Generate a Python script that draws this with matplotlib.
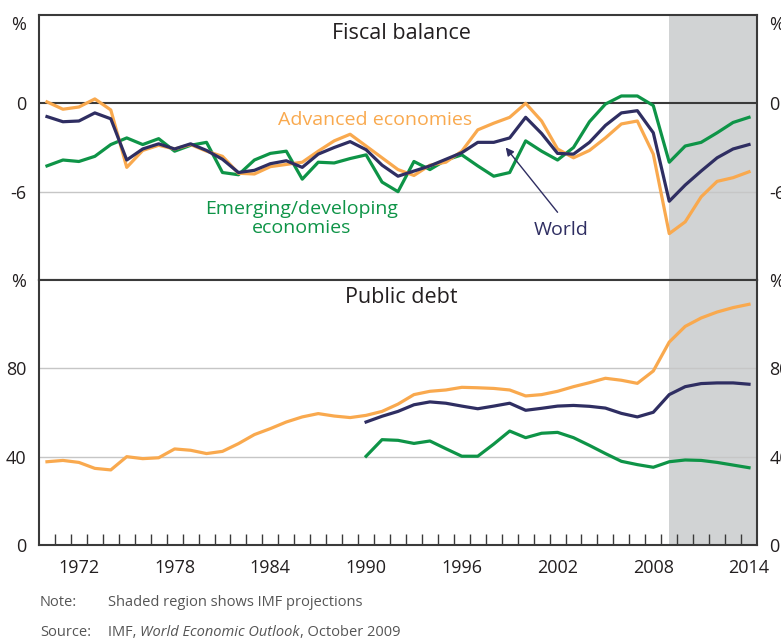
import matplotlib
matplotlib.use("Agg")
import matplotlib.pyplot as plt
import matplotlib.transforms as mtransforms
import numpy as np

plt.rcParams['font.family'] = ['Open Sans', 'DejaVu Sans']

# ---------------- data ----------------
years = list(range(1970, 2015))
debt_years_short = list(range(1990, 2015))

fiscal_advanced = [0.1, -0.4, -0.25, 0.3, -0.45, -4.35, -3.2, -2.85, -3.1, -2.8,
                   -3.25, -3.6, -4.75, -4.8, -4.3, -4.15, -4.0, -3.25, -2.55, -2.1,
                   -2.9, -3.7, -4.5, -4.9, -4.2, -4.0, -3.25, -1.8, -1.35, -0.95,
                   0.0, -1.2, -3.1, -3.7, -3.2, -2.35, -1.4, -1.2, -3.45, -8.85,
                   -8.05, -6.35, -5.3, -5.05, -4.65]
fiscal_world = [-0.9, -1.25, -1.2, -0.65, -1.05, -3.85, -3.1, -2.75, -3.1, -2.75,
                -3.2, -3.8, -4.7, -4.55, -4.1, -3.9, -4.35, -3.45, -3.0, -2.6,
                -3.15, -4.2, -4.95, -4.6, -4.25, -3.8, -3.35, -2.65, -2.65, -2.35,
                -0.95, -2.05, -3.4, -3.45, -2.65, -1.5, -0.65, -0.5, -2.0, -6.65,
                -5.55, -4.6, -3.7, -3.1, -2.8]
fiscal_emerging = [-4.25, -3.85, -3.95, -3.6, -2.8, -2.35, -2.8, -2.4, -3.25, -2.85,
                   -2.65, -4.7, -4.85, -3.85, -3.4, -3.25, -5.15, -4.0, -4.05, -3.75,
                   -3.5, -5.35, -6.0, -3.95, -4.5, -3.85, -3.5, -4.25, -4.95, -4.7,
                   -2.55, -3.25, -3.85, -3.0, -1.25, -0.05, 0.5, 0.5, -0.15, -4.0,
                   -2.9, -2.65, -2.0, -1.3, -0.95]

debt_advanced = [37.7, 38.3, 37.4, 34.7, 34.0, 40.0, 39.1, 39.5, 43.5, 42.9,
                 41.4, 42.4, 45.9, 50.0, 52.7, 55.7, 58.0, 59.5, 58.4, 57.7,
                 58.7, 60.5, 63.8, 68.1, 69.6, 70.2, 71.4, 71.2, 70.9, 70.2,
                 67.5, 68.1, 69.6, 71.7, 73.5, 75.5, 74.6, 73.2, 78.8, 91.9,
                 99.0, 102.8, 105.5, 107.5, 109.0]
debt_world = [55.7, 58.3, 60.5, 63.5, 64.8, 64.2, 62.9, 61.7, 62.9, 64.2,
              61.0, 61.9, 62.9, 63.2, 62.8, 62.0, 59.6, 58.0, 60.1, 68.1,
              71.7, 73.1, 73.4, 73.4, 72.8]
debt_emerging = [40.2, 47.7, 47.4, 46.0, 47.1, 43.6, 40.2, 40.2, 45.7, 51.6,
                 48.6, 50.6, 51.0, 48.6, 45.1, 41.4, 37.9, 36.4, 35.2, 37.7,
                 38.5, 38.3, 37.4, 36.2, 35.0]

xtick_years = [1972, 1978, 1984, 1990, 1996, 2002, 2008, 2014]
projection_start = 2009

# ---------------- style ----------------
ORANGE = '#F9A94E'
NAVY = '#2F2E62'
GREEN = '#0E9447'
SHADE = '#D1D3D4'
GRID = '#C6C6C6'
DARK = '#3A3A3A'
TEXT = '#231F20'
NOTE = '#555555'
LW = 2.3

W, H = 781, 638
fig = plt.figure(figsize=(W / 100, H / 100), dpi=100)


def axrect(x0, y0, x1, y1):
    return [x0 / W, 1 - y1 / H, (x1 - x0) / W, (y1 - y0) / H]


ax1 = fig.add_axes(axrect(39, 15, 757, 280))
ax2 = fig.add_axes(axrect(39, 280, 757, 545))

for ax in (ax1, ax2):
    ax.set_xlim(1969.5, 2014.5)
    ax.axvspan(projection_start, 2014.5, color=SHADE, lw=0, zorder=0)
    for s in ax.spines.values():
        s.set_color(DARK)
        s.set_linewidth(1.5)
    ax.tick_params(axis='y', length=0, labelleft=True, labelright=True,
                   labelsize=13, labelcolor=TEXT, pad=9)

# --- top panel: fiscal balance ---
ax1.set_ylim(-12, 6)
ax1.axhline(0, color=DARK, lw=1.5, zorder=1)
ax1.axhline(-6, color=GRID, lw=1.0, zorder=1)
ax1.set_yticks([-6, 0, 6])
ax1.set_yticklabels(['-6', '0', '%'])
ax1.set_xticks([])
ax1.plot(years, fiscal_emerging, color=GREEN, lw=LW, zorder=3)
ax1.plot(years, fiscal_advanced, color=ORANGE, lw=LW, zorder=4)
ax1.plot(years, fiscal_world, color=NAVY, lw=LW, zorder=5)

# push the top "%" labels slightly down, as in the reference
shift = mtransforms.ScaledTranslation(0, -6 / 72, fig.dpi_scale_trans)
for lbl in ax1.yaxis.get_ticklabels(which='major'):
    pass
for tick in ax1.yaxis.get_major_ticks():
    if tick.label1.get_text() == '%' or tick.get_loc() == 6:
        tick.label1.set_transform(tick.label1.get_transform() + shift)
        tick.label2.set_transform(tick.label2.get_transform() + shift)

ax1.text(1992.2, 4.75, 'Fiscal balance', ha='center', va='center',
         fontsize=15.5, color=TEXT)
ax1.text(1990.56, -1.15, 'Advanced economies', ha='center', va='center',
         fontsize=14, color=ORANGE)
ax1.text(1985.95, -7.2, 'Emerging/developing', ha='center', va='center',
         fontsize=14, color=GREEN)
ax1.text(1985.95, -8.45, 'economies', ha='center', va='center',
         fontsize=14, color=GREEN)
ax1.text(2002.2, -8.6, 'World', ha='center', va='center',
         fontsize=14, color=NAVY)
ax1.annotate('', xy=(1998.75, -3.0), xytext=(2002.0, -7.4),
             arrowprops=dict(arrowstyle='-|>', color=NAVY, lw=1.0,
                             mutation_scale=12, shrinkA=0, shrinkB=0),
             zorder=6)

# --- bottom panel: public debt ---
ax2.set_ylim(0, 120)
ax2.axhline(40, color=GRID, lw=1.0, zorder=1)
ax2.axhline(80, color=GRID, lw=1.0, zorder=1)
ax2.set_yticks([0, 40, 80, 120])
ax2.set_yticklabels(['0', '40', '80', '%'])
ax2.set_xticks(xtick_years)
ax2.set_xticklabels([str(y) for y in xtick_years])
ax2.set_xticks(np.arange(1970.5, 2014, 1.0), minor=True)
ax2.tick_params(axis='x', which='major', length=0, labelsize=13,
                labelcolor=TEXT, pad=10)
ax2.tick_params(axis='x', which='minor', direction='in', length=8,
                width=1.0, color=DARK)
ax2.plot(debt_years_short, debt_emerging, color=GREEN, lw=LW, zorder=3)
ax2.plot(years, debt_advanced, color=ORANGE, lw=LW, zorder=4)
ax2.plot(debt_years_short, debt_world, color=NAVY, lw=LW, zorder=5)
ax2.text(1992.2, 112.3, 'Public debt', ha='center', va='center',
         fontsize=15.5, color=TEXT)

# --- notes ---
fs_note = 10.5
fig.text(40 / W, 1 - 603 / H, 'Note:', fontsize=fs_note, color=NOTE, va='center')
fig.text(108 / W, 1 - 603 / H, 'Shaded region shows IMF projections',
         fontsize=fs_note, color=NOTE, va='center')
fig.text(40 / W, 1 - 632 / H, 'Source:', fontsize=fs_note, color=NOTE, va='center')

renderer = fig.canvas.get_renderer()
x = 108
parts = [('IMF, ', 'normal'), ('World Economic Outlook', 'italic'),
         (', October 2009', 'normal')]
for txt, style in parts:
    t = fig.text(x / W, 1 - 632 / H, txt, fontsize=fs_note, color=NOTE,
                 va='center', style=style)
    bb = t.get_window_extent(renderer=renderer)
    x += bb.width

fig.savefig('out.png', dpi=100)
